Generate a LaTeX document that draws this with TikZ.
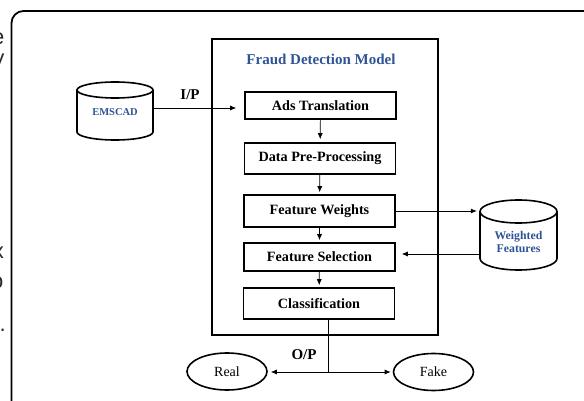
\documentclass[tikz,border=0pt]{standalone}
\usepackage{fontspec}
\setmainfont{Liberation Serif}
\newfontfamily\fragfont{Liberation Sans}
\usetikzlibrary{shapes.geometric,arrows.meta}
\definecolor{titleblue}{RGB}{47,84,150}
\definecolor{fragcol}{RGB}{40,40,40}
\tikzset{
  proc/.style={draw, line width=1.6pt, minimum width=151pt, inner sep=0pt,
    font=\bfseries\fontsize{14.2}{16}\selectfont},
  arr/.style={-{Latex[length=6pt,width=5pt]}, line width=0.7pt},
  conn/.style={line width=0.7pt},
  oval/.style={draw, ellipse, line width=1.6pt, minimum width=80pt, minimum height=37pt,
    inner sep=0pt, font=\fontsize{14}{16}\selectfont},
  lbl/.style={font=\bfseries\fontsize{15}{17}\selectfont, inner sep=0pt},
  dbtext/.style={text=titleblue, inner sep=0pt, align=center},
  ghost/.style={draw=none, inner sep=0pt},
  frag/.style={font=\fragfont\fontsize{22}{24}\selectfont, text=fragcol, inner sep=0pt, anchor=base east}
}
\begin{document}
\begin{tikzpicture}[x=1pt,y=-1pt]
\useasboundingbox (0,0) rectangle (584,401);
% cropped text fragments at the left border
\begin{scope}
\clip (0,0) rectangle (10,401);
\node[frag] (f1) at (4.5,45) {e};
\node[frag] (f2) at (4.5,66) {y};
\node[frag] (f3) at (4,258) {x};
\node[frag] (f4) at (3.5,288) {o};
\node[frag] (f5) at (6,331) {.};
\end{scope}
% outer rounded frame
\draw[line width=1.8pt] (11.5,410) -- (11.5,23) arc[start angle=180, end angle=90, radius=12pt] -- (600,11);
% main model box
\node[draw, line width=2pt, minimum width=226pt, minimum height=296pt, inner sep=0pt] (fdm) at (325,187) {};
\node[font=\bfseries\fontsize{15}{17}\selectfont, text=titleblue, inner sep=0pt] (title) at (321,59) {Fraud Detection Model};
% process boxes
\node[proc, minimum height=27pt] (ads) at (320.5,105.5) {Ads Translation};
\node[proc, minimum height=31pt] (dpp) at (320,158.5) {Data Pre-Processing};
\node[proc, minimum height=32pt] (fw) at (319.5,211) {Feature Weights};
\node[proc, minimum height=28pt] (fs) at (319.5,257) {Feature Selection};
\node[proc, minimum height=31pt] (cls) at (319,303.5) {Classification};
\draw[arr, shorten >=3pt] (ads) -- (dpp);
\draw[arr, shorten >=2pt] (dpp) -- (fw);
\draw[arr, shorten >=2pt] (fw) -- (fs);
\draw[arr, shorten >=2pt] (fs) -- (cls);
% EMSCAD cylinder
\draw[line width=1.6pt, fill=white] (77,90) -- (77,132) arc[start angle=180, end angle=360, x radius=38pt, y radius=8pt] -- (153,90);
\draw[line width=1.6pt] (115,90) ellipse[x radius=38pt, y radius=8pt];
\node[ghost, minimum width=76pt, minimum height=58pt] (emscad) at (115,111) {};
\node[dbtext, font=\bfseries\fontsize{10.5}{12}\selectfont] (emt) at (115,112) {EMSCAD};
\draw[arr, shorten >=8pt] ([yshift=3pt]emscad.east) -- ([yshift=3pt]emscad.east -| ads.west);
\node[lbl] (ip) at (190,95) {I/P};
% Weighted features cylinder
\draw[line width=1.6pt, fill=white] (480,211.5) -- (480,258.5) arc[start angle=180, end angle=360, x radius=38.5pt, y radius=11.5pt] -- (557,211.5);
\draw[line width=1.6pt] (518.5,211.5) ellipse[x radius=38.5pt, y radius=11.5pt];
\node[ghost, minimum width=77pt, minimum height=70pt] (wf) at (518.5,235) {};
\node[dbtext, font=\bfseries\fontsize{11.8}{13}\selectfont] (wft) at (518.5,242) {Weighted\\Features};
\draw[arr, shorten >=3pt] (fw.east) -- (fw.east -| wf.west);
\draw[arr, shorten >=6pt] ([yshift=3pt]fs.east -| wf.west) -- ([yshift=3pt]fs.east);
% outputs
\coordinate (j) at (328,372);
\node[oval] (real) at (227,371.5) {Real};
\node[oval] (fake) at (433.5,372) {Fake};
\draw[conn] (cls.south -| j) -- (j);
\draw[arr, shorten >=3pt] (j) -- (j -| real.east);
\draw[arr, shorten >=2pt] (j) -- (j -| fake.west);
\node[lbl] (op) at (304,355) {O/P};
\end{tikzpicture}
\end{document}
